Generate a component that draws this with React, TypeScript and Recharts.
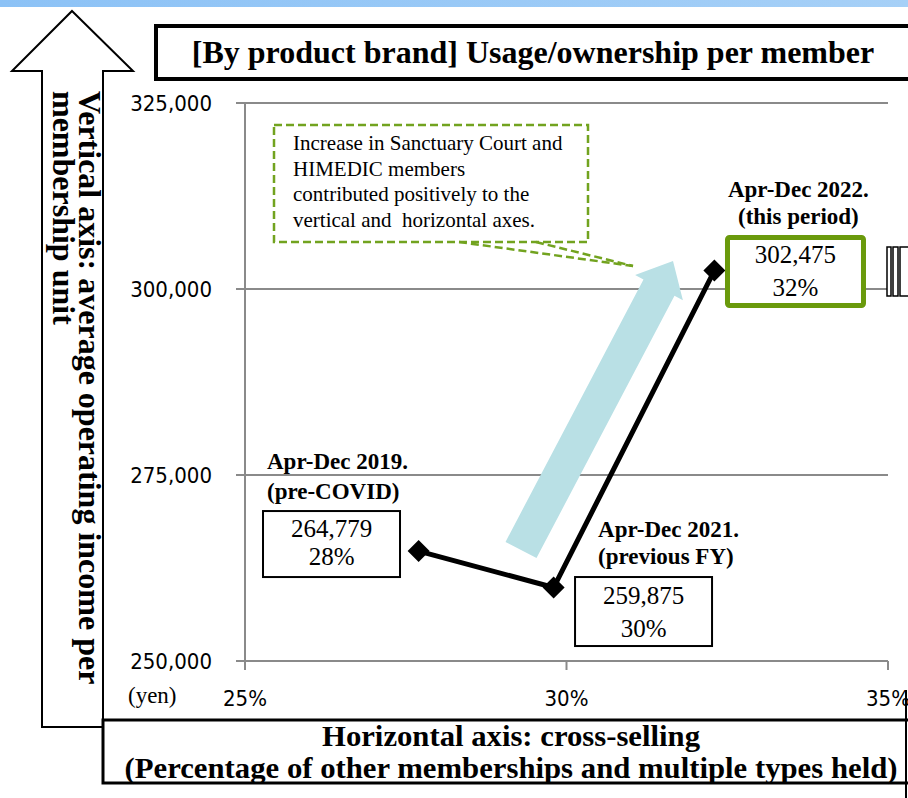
import { LineChart, Line, XAxis, YAxis, CartesianGrid, LabelList } from "recharts";

// points of the chart: cross-selling rate (x) vs operating income per membership (y)
const periods = ["Apr-Dec 2019.", "Apr-Dec 2021.", "Apr-Dec 2022."];
const periodNotes = ["(pre-COVID)", "(previous FY)", "(this period)"];
const crossSellingRate = [27.7, 29.8, 32.3];
const incomePerMember = [264779, 259875, 302475];
const rateLabels = ["28%", "30%", "32%"];

const xTicks = [25, 30, 35];
const yTicks = [250000, 275000, 300000, 325000];

const calloutLines = [
  "Increase in Sanctuary Court and",
  "HIMEDIC members",
  "contributed positively to the",
  "vertical and  horizontal axes.",
];

const data = periods.map((period, i) => ({
  period,
  rate: crossSellingRate[i],
  income: incomePerMember[i],
}));

// label placement relative to each point
const labelLayout = [
  { tx: -151.6, anchor: "start", t1: -82, t2: -52, bx: -155.6, by: -40, bw: 137, bh: 66, vx: -87, v1: -14, v2: 14, green: false },
  { tx: 44.4, anchor: "start", t1: -50.5, t2: -23.5, bx: 21.4, by: -10.5, bw: 137, bh: 69, vx: 90, v1: 16.5, v2: 49.5, green: false },
  { tx: 84, anchor: "middle", t1: -73.6, t2: -46.6, bx: 13.1, by: -33.1, bw: 136, bh: 68, vx: 81, v1: -7.6, v2: 25.4, green: true },
];

const serif = "'Liberation Serif', 'Times New Roman', serif";
const sans = "'DejaVu Sans Condensed', 'DejaVu Sans', sans-serif";
const gray = "#8a8a8a";

const tickStyle = { fontFamily: sans, fontSize: 22, fill: "#000", fontStretch: "condensed" };

const renderDiamond = (props: any) => {
  const { cx, cy, index } = props;
  const r = 11;
  return (
    <polygon
      key={`dot-${index}`}
      points={`${cx},${cy - r} ${cx + r},${cy} ${cx},${cy + r} ${cx - r},${cy}`}
      fill="#000"
    />
  );
};

const renderPointLabel = (props: any) => {
  let index = props.index;
  if (index === undefined || index === null) index = incomePerMember.indexOf(Number(props.value));
  const x = props.x ?? props.viewBox?.x;
  const y = props.y ?? props.viewBox?.y;
  const L = labelLayout[index];
  if (!L || x === undefined || y === undefined) return null;
  return (
    <g key={`lbl-${index}`}>
      <text x={x + L.tx} y={y + L.t1} textAnchor={L.anchor} fontFamily={serif} fontWeight="bold" fontSize={23} fill="#000">
        {periods[index]}
      </text>
      <text x={x + L.tx} y={y + L.t2} textAnchor={L.anchor} fontFamily={serif} fontWeight="bold" fontSize={23} fill="#000">
        {periodNotes[index]}
      </text>
      <rect
        x={x + L.bx}
        y={y + L.by}
        width={L.bw}
        height={L.bh}
        rx={L.green ? 2 : 0}
        fill="#fff"
        stroke={L.green ? "#6a9a0c" : "#000"}
        strokeWidth={L.green ? 5 : 2}
      />
      <text x={x + L.vx} y={y + L.v1} textAnchor="middle" fontFamily={serif} fontSize={25} fill="#000">
        {incomePerMember[index].toLocaleString("en-US")}
      </text>
      <text x={x + L.vx} y={y + L.v2} textAnchor="middle" fontFamily={serif} fontSize={25} fill="#000">
        {rateLabels[index]}
      </text>
    </g>
  );
};

function Decorations() {
  const green = "#72a31f";
  return (
    <svg
      width={908}
      height={798}
      style={{ position: "absolute", left: 0, top: 0, pointerEvents: "none" }}
    >
      <defs>
        <linearGradient id="band" x1="0" y1="0" x2="1" y2="0">
          <stop offset="0%" stopColor="#8cc2f6" />
          <stop offset="100%" stopColor="#a6d0f7" />
        </linearGradient>
      </defs>
      <rect x={0} y={0} width={908} height={7} fill="url(#band)" />

      {/* vertical axis arrow */}
      <polygon
        points="72,11 133,71 103,71 103,727 42,727 42,71 12,71"
        fill="#fff"
        stroke="#000"
        strokeWidth={2}
      />
      <g transform="translate(79,91) rotate(90)" fontFamily={serif} fontWeight="bold" fontSize={32} fill="#000">
        <text x={0} y={0}>Vertical axis: average operating income per</text>
        <text x={0} y={26}>membership unit</text>
      </g>

      {/* title box */}
      <rect x={156} y={26} width={770} height={53} fill="#fff" stroke="#000" strokeWidth={4} />
      <text x={533} y={63} textAnchor="middle" fontFamily={serif} fontWeight="bold" fontSize={32} fill="#000">
        [By product brand] Usage/ownership per member
      </text>

      {/* horizontal axis title box */}
      <rect x={103} y={720} width={830} height={63} fill="#fff" stroke="#000" strokeWidth={3} />
      <text x={511} y={746} textAnchor="middle" fontFamily={serif} fontWeight="bold" fontSize={28.5}
        textLength={378} lengthAdjust="spacingAndGlyphs" fill="#000">
        Horizontal axis: cross-selling
      </text>
      <text x={511} y={778} textAnchor="middle" fontFamily={serif} fontWeight="bold" fontSize={28.5}
        textLength={773} lengthAdjust="spacingAndGlyphs" fill="#000">
        (Percentage of other memberships and multiple types held)
      </text>
      <line x1={906} y1={690} x2={906} y2={798} stroke="#000" strokeWidth={2} />

      <text x={128} y={703} fontFamily={serif} fontSize={23} fill="#000">(yen)</text>

      {/* progress arrow */}
      <polygon
        points="505.5,541.9 643.5,279.5 635.1,275 673,261 682.9,300.2 674.5,295.7 536.5,558.1"
        fill="#b9e0e5"
      />

      {/* callout */}
      <g stroke={green} strokeWidth={2.5} strokeDasharray="8 4" fill="none">
        <rect x={274} y={125} width={314} height={117} />
        <line x1={459} y1={242} x2={633} y2={266} />
        <line x1={536} y1={242} x2={633} y2={266} />
      </g>
      <g fontFamily={serif} fontSize={21} fill="#000">
        {calloutLines.map((line, i) => (
          <text key={i} x={293} y={150 + i * 25.7} style={{ whiteSpace: "pre" }}>
            {line}
          </text>
        ))}
      </g>

      {/* clipped striped marker on the right */}
      <g stroke="#000" strokeWidth={1.5} fill="#fff">
        <rect x={887} y={247} width={4} height={49} />
        <rect x={893} y={247} width={5} height={49} />
        <rect x={900} y={247} width={12} height={49} />
      </g>
    </svg>
  );
}

export default function App() {
  return (
    <div style={{ position: "relative", width: 908, height: 798, overflow: "hidden", background: "#fff" }}>
      <style>{"body{margin:0}"}</style>
      <LineChart
        width={908}
        height={798}
        data={data}
        margin={{ top: 103, right: 20, bottom: 97, left: 125 }}
      >
        <CartesianGrid vertical={false} stroke={gray} strokeWidth={2} />
        <XAxis
          type="number"
          dataKey="rate"
          domain={[25, 35]}
          ticks={xTicks}
          interval={0}
          allowDataOverflow
          tickFormatter={(v: number) => `${v}%`}
          height={40}
          tickSize={9}
          tickMargin={20}
          axisLine={{ stroke: gray, strokeWidth: 2 }}
          tickLine={{ stroke: gray, strokeWidth: 2 }}
          tick={tickStyle}
        />
        <YAxis
          type="number"
          domain={[250000, 325000]}
          ticks={yTicks}
          interval={0}
          allowDataOverflow
          tickFormatter={(v: number) => v.toLocaleString("en-US")}
          width={120}
          tickSize={9}
          tickMargin={24}
          axisLine={{ stroke: gray, strokeWidth: 2 }}
          tickLine={{ stroke: gray, strokeWidth: 2 }}
          tick={tickStyle}
        />
        <Line
          type="linear"
          dataKey="income"
          stroke="#000"
          strokeWidth={5}
          dot={renderDiamond}
          activeDot={false}
          isAnimationActive={false}
        >
          <LabelList dataKey="income" content={renderPointLabel} />
        </Line>
      </LineChart>
      <Decorations />
    </div>
  );
}
